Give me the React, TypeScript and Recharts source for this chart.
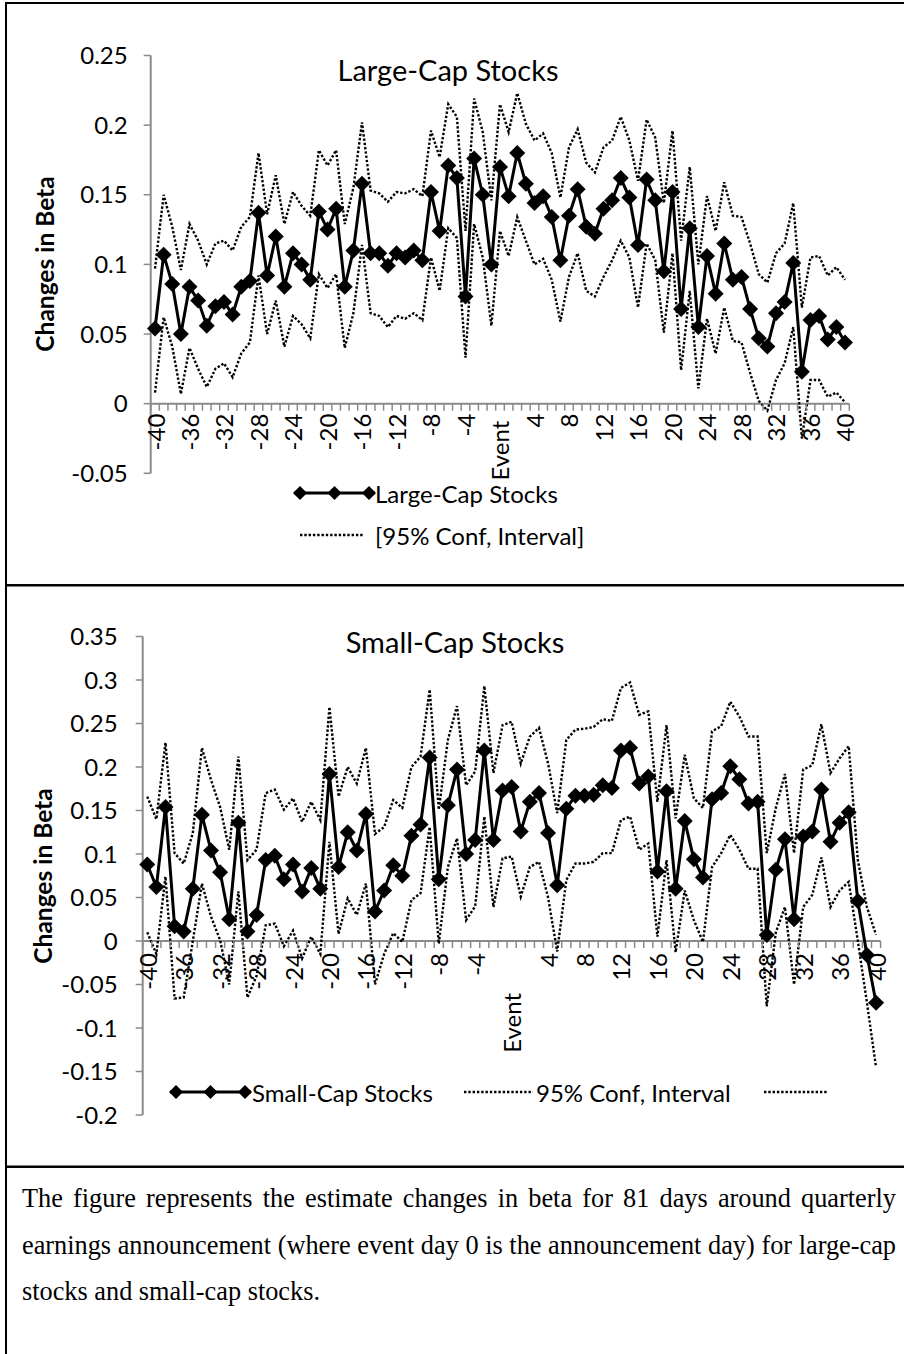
import React from 'react';
import { LineChart, Line, XAxis, YAxis, ReferenceLine } from 'recharts';

// event days around the announcement
const days = [
  -40, -39, -38, -37, -36, -35, -34, -33, -32, -31, -30, -29, -28, -27, -26, -25, -24, -23, -22, -21,
  -20, -19, -18, -17, -16, -15, -14, -13, -12, -11, -10, -9, -8, -7, -6, -5, -4, -3, -2, -1,
  0, 1, 2, 3, 4, 5, 6, 7, 8, 9, 10, 11, 12, 13, 14, 15, 16, 17, 18, 19, 20,
  21, 22, 23, 24, 25, 26, 27, 28, 29, 30, 31, 32, 33, 34, 35, 36, 37, 38, 39, 40,
];

const xLabelDays = [-40, -36, -32, -28, -24, -20, -16, -12, -8, -4, 0, 4, 8, 12, 16, 20, 24, 28, 32, 36, 40];

const largeCap = [
  0.054, 0.107, 0.086, 0.05, 0.084, 0.074, 0.056, 0.07, 0.073, 0.064, 0.084, 0.088, 0.137, 0.092, 0.12, 0.084, 0.108, 0.1, 0.089, 0.138,
  0.125, 0.14, 0.084, 0.11, 0.158, 0.108, 0.108, 0.099, 0.108, 0.105, 0.11, 0.103, 0.152, 0.124, 0.171, 0.162, 0.077, 0.176, 0.15, 0.1,
  0.17, 0.149, 0.18, 0.158, 0.144, 0.149, 0.134, 0.103, 0.135, 0.154, 0.127, 0.122, 0.14, 0.146, 0.162, 0.148, 0.114, 0.161, 0.146, 0.095, 0.152,
  0.068, 0.126, 0.055, 0.106, 0.079, 0.115, 0.089, 0.091, 0.068, 0.047, 0.041, 0.065, 0.073, 0.101, 0.023, 0.06, 0.063, 0.046, 0.055, 0.044,
];
const largeUpper = [
  0.097, 0.15, 0.127, 0.096, 0.129, 0.117, 0.1, 0.115, 0.117, 0.11, 0.127, 0.134, 0.18, 0.136, 0.164, 0.129, 0.152, 0.142, 0.135, 0.182,
  0.171, 0.182, 0.129, 0.155, 0.202, 0.153, 0.151, 0.145, 0.152, 0.151, 0.154, 0.149, 0.196, 0.177, 0.215, 0.206, 0.124, 0.219, 0.195, 0.146,
  0.215, 0.195, 0.223, 0.201, 0.189, 0.194, 0.18, 0.148, 0.184, 0.197, 0.173, 0.166, 0.184, 0.189, 0.206, 0.189, 0.16, 0.204, 0.191, 0.144, 0.196,
  0.117, 0.17, 0.1, 0.149, 0.124, 0.159, 0.135, 0.134, 0.115, 0.093, 0.087, 0.108, 0.115, 0.144, 0.069, 0.105, 0.106, 0.092, 0.098, 0.089,
];
const largeLower = [
  0.008, 0.062, 0.041, 0.007, 0.04, 0.025, 0.012, 0.025, 0.029, 0.019, 0.036, 0.044, 0.092, 0.05, 0.074, 0.041, 0.063, 0.057, 0.047, 0.093,
  0.083, 0.093, 0.04, 0.065, 0.114, 0.065, 0.063, 0.055, 0.063, 0.061, 0.065, 0.06, 0.105, 0.081, 0.126, 0.119, 0.033, 0.129, 0.105, 0.056,
  0.124, 0.106, 0.134, 0.117, 0.1, 0.104, 0.089, 0.059, 0.091, 0.108, 0.081, 0.077, 0.091, 0.103, 0.117, 0.105, 0.069, 0.115, 0.103, 0.051, 0.108,
  0.024, 0.081, 0.011, 0.061, 0.036, 0.069, 0.045, 0.044, 0.022, 0.002, -0.005, 0.017, 0.029, 0.055, -0.025, 0.017, 0.017, 0.005, 0.008, 0.001,
];

const smallCap = [
  0.088, 0.062, 0.154, 0.017, 0.011, 0.06, 0.145, 0.104, 0.079, 0.025, 0.136, 0.011, 0.03, 0.093, 0.098, 0.071, 0.088, 0.057, 0.084, 0.06,
  0.192, 0.085, 0.125, 0.104, 0.146, 0.034, 0.058, 0.087, 0.075, 0.121, 0.134, 0.211, 0.071, 0.156, 0.197, 0.1, 0.116, 0.219, 0.116, 0.173,
  0.177, 0.126, 0.16, 0.17, 0.124, 0.064, 0.152, 0.167, 0.167, 0.168, 0.179, 0.176, 0.219, 0.222, 0.181, 0.189, 0.08, 0.172, 0.06, 0.138, 0.094,
  0.073, 0.163, 0.17, 0.201, 0.186, 0.158, 0.16, 0.007, 0.082, 0.117, 0.025, 0.12, 0.126, 0.174, 0.114, 0.136, 0.148, 0.046, -0.016, -0.071,
];
const smallUpper = [
  0.166, 0.14, 0.228, 0.101, 0.089, 0.124, 0.222, 0.185, 0.154, 0.105, 0.212, 0.093, 0.105, 0.17, 0.174, 0.151, 0.164, 0.137, 0.16, 0.139,
  0.269, 0.166, 0.2, 0.181, 0.222, 0.123, 0.131, 0.162, 0.153, 0.2, 0.212, 0.289, 0.151, 0.231, 0.27, 0.179, 0.195, 0.293, 0.193, 0.248,
  0.252, 0.204, 0.235, 0.245, 0.204, 0.147, 0.231, 0.243, 0.244, 0.246, 0.255, 0.253, 0.291, 0.297, 0.26, 0.264, 0.16, 0.248, 0.141, 0.214, 0.164,
  0.153, 0.241, 0.247, 0.275, 0.258, 0.235, 0.235, 0.101, 0.153, 0.192, 0.101, 0.197, 0.202, 0.249, 0.193, 0.21, 0.224, 0.093, 0.039, 0.007,
];
const smallLower = [
  0.01, -0.015, 0.074, -0.066, -0.065, 0.0, 0.066, 0.028, 0.001, -0.05, 0.057, -0.065, -0.04, 0.018, 0.02, -0.006, 0.012, -0.02, 0.005, -0.015,
  0.114, 0.008, 0.049, 0.03, 0.066, -0.05, -0.015, 0.009, -0.001, 0.047, 0.055, 0.131, -0.003, 0.085, 0.118, 0.024, 0.04, 0.143, 0.039, 0.095,
  0.097, 0.051, 0.085, 0.091, 0.05, -0.012, 0.07, 0.089, 0.089, 0.091, 0.101, 0.101, 0.139, 0.143, 0.105, 0.112, 0.005, 0.093, -0.013, 0.058, 0.024,
  -0.001, 0.085, 0.101, 0.122, 0.105, 0.083, 0.083, -0.075, 0.01, 0.039, -0.05, 0.039, 0.053, 0.096, 0.039, 0.058, 0.068, 0.0, -0.071, -0.145,
];

const largeYTicks = [-0.05, 0, 0.05, 0.1, 0.15, 0.2, 0.25];
const smallYTicks = [-0.2, -0.15, -0.1, -0.05, 0, 0.05, 0.1, 0.15, 0.2, 0.25, 0.3, 0.35];

const FONT = 'Lato, "Open Sans", sans-serif';
const AXIS = '#8a8a8a';
const DOTS = '2.4 1.9';

const largeRows = days.map((d, i) => ({ day: d, main: largeCap[i], upper: largeUpper[i], lower: largeLower[i] }));
const smallRows = days.map((d, i) => ({ day: d, main: smallCap[i], upper: smallUpper[i], lower: smallLower[i] }));

const fmtY = (v: number) => String(Number(v.toFixed(2)));

const diamond = (p: any) => {
  const { cx, cy, index } = p;
  if (cx == null || cy == null) return <g key={`n-${index}`} />;
  return (
    <path
      key={`dm-${index}`}
      d={`M${cx},${cy - 8}L${cx + 8},${cy}L${cx},${cy + 8}L${cx - 8},${cy}Z`}
      fill="#000"
    />
  );
};

type Panel = {
  top: number;
  width: number;
  height: number;
  margin: { top: number; right: number; bottom: number; left: number };
  yDomain: [number, number];
  yTicks: number[];
  labelGap: number;
  eventShift: number;
  tickMargin: number;
};

const Y_AXIS_W = 130;
const X_AXIS_H = 1;

function ChartPanel({ cfg, rows }: { cfg: Panel; rows: any[] }) {
  const { margin, width, height, yDomain } = cfg;
  const plotH = height - margin.top - margin.bottom - X_AXIS_H;
  const plotW = width - margin.left - Y_AXIS_W - margin.right;
  const zeroY = margin.top + (plotH * yDomain[1]) / (yDomain[1] - yDomain[0]);
  const step = plotW / days.length;

  const dayTick = (props: any) => {
    const { x, payload } = props;
    const d = payload.value;
    const ty = zeroY + cfg.labelGap + (d === 0 ? cfg.eventShift : 0);
    return (
      <g key={`tk-${d}`}>
        <line x1={x - step / 2} x2={x - step / 2} y1={zeroY} y2={zeroY + 7} stroke={AXIS} strokeWidth={1.5} />
        {d === days[days.length - 1] && (
          <line x1={x + step / 2} x2={x + step / 2} y1={zeroY} y2={zeroY + 7} stroke={AXIS} strokeWidth={1.5} />
        )}
        {xLabelDays.includes(d) && (
          <text
            x={x}
            y={ty}
            transform={`rotate(-90 ${x} ${ty})`}
            textAnchor="end"
            dominantBaseline="central"
            fontSize={24}
            fontFamily={FONT}
            fill="#000"
          >
            {d === 0 ? 'Event' : d}
          </text>
        )}
      </g>
    );
  };

  return (
    <div style={{ position: 'absolute', left: 0, top: cfg.top }}>
      <LineChart width={width} height={height} data={rows} margin={margin}>
        <XAxis
          type="number"
          dataKey="day"
          domain={[-40.5, 40.5]}
          ticks={days}
          interval={0}
          height={X_AXIS_H}
          axisLine={false}
          tickLine={false}
          tick={dayTick}
        />
        <YAxis
          type="number"
          domain={yDomain}
          ticks={cfg.yTicks}
          interval={0}
          width={Y_AXIS_W}
          axisLine={{ stroke: AXIS, strokeWidth: 2 }}
          tickLine={{ stroke: AXIS, strokeWidth: 1.5 }}
          tickSize={7}
          tickMargin={cfg.tickMargin}
          tickFormatter={fmtY}
          tick={{ fontSize: 24, fill: '#000', fontFamily: FONT }}
        />
        <ReferenceLine y={0} stroke={AXIS} strokeWidth={2} />
        <Line type="linear" dataKey="upper" stroke="#000" strokeWidth={2.4} strokeDasharray={DOTS} dot={false} isAnimationActive={false} />
        <Line type="linear" dataKey="lower" stroke="#000" strokeWidth={2.4} strokeDasharray={DOTS} dot={false} isAnimationActive={false} />
        <Line type="linear" dataKey="main" stroke="#000" strokeWidth={3} dot={diamond} isAnimationActive={false} />
      </LineChart>
    </div>
  );
}

const largePanel: Panel = {
  top: 0,
  width: 904,
  height: 586,
  margin: { top: 55.5, right: 54.7, bottom: 111.7, left: 150.7 - Y_AXIS_W },
  yDomain: [-0.05, 0.25],
  yTicks: largeYTicks,
  labelGap: 10,
  eventShift: 7,
  tickMargin: 16,
};

const smallPanel: Panel = {
  top: 586,
  width: 904,
  height: 580,
  margin: { top: 50.5, right: 23.4, bottom: 50, left: 142.7 - Y_AXIS_W },
  yDomain: [-0.2, 0.35],
  yTicks: smallYTicks,
  labelGap: 12,
  eventShift: 40,
  tickMargin: 18,
};

function LegendDiamonds({ x1, x2, y }: { x1: number; x2: number; y: number }) {
  const mid = (x1 + x2) / 2;
  const pts = [x1 + 6, mid, x2 - 6];
  return (
    <g>
      <line x1={x1} x2={x2} y1={y} y2={y} stroke="#000" strokeWidth={3} />
      {pts.map((px) => (
        <path key={px} d={`M${px},${y - 7}L${px + 7},${y}L${px},${y + 7}L${px - 7},${y}Z`} fill="#000" />
      ))}
    </g>
  );
}

function LegendDots({ x1, x2, y }: { x1: number; x2: number; y: number }) {
  return <line x1={x1} x2={x2} y1={y} y2={y} stroke="#000" strokeWidth={2.4} strokeDasharray={DOTS} />;
}

function Overlay() {
  const txt = { fontFamily: FONT, fill: '#000' };
  return (
    <svg width={904} height={1354} style={{ position: 'absolute', left: 0, top: 0, pointerEvents: 'none' }}>
      {/* table frame */}
      <rect x={5} y={2} width={2} height={1352} fill="#000" />
      <rect x={5} y={2} width={899} height={2} fill="#000" />
      <rect x={5} y={584} width={899} height={2.5} fill="#000" />
      <rect x={5} y={1165.5} width={899} height={2.5} fill="#000" />

      {/* titles */}
      <text x={448} y={81} textAnchor="middle" fontSize={29} {...txt}>Large-Cap Stocks</text>
      <text x={455} y={653} textAnchor="middle" fontSize={29} {...txt}>Small-Cap Stocks</text>

      {/* axis titles */}
      <text x={44} y={264} transform="rotate(-90 44 264)" textAnchor="middle" dominantBaseline="central" fontSize={24.5} fontWeight="bold" {...txt}>
        Changes in Beta
      </text>
      <text x={42} y={876} transform="rotate(-90 42 876)" textAnchor="middle" dominantBaseline="central" fontSize={24.5} fontWeight="bold" {...txt}>
        Changes in Beta
      </text>

      {/* large-cap legend */}
      <LegendDiamonds x1={294} x2={375} y={493} />
      <text x={375} y={493} dominantBaseline="central" fontSize={24} {...txt}>Large-Cap Stocks</text>
      <LegendDots x1={300} x2={363} y={535} />
      <text x={375} y={535} dominantBaseline="central" fontSize={24} {...txt}>[95% Conf, Interval]</text>

      {/* small-cap legend */}
      <LegendDiamonds x1={170} x2={251} y={1092} />
      <text x={252} y={1092} dominantBaseline="central" fontSize={24} {...txt}>Small-Cap Stocks</text>
      <LegendDots x1={464} x2={533} y={1092} />
      <text x={536} y={1092} dominantBaseline="central" fontSize={24} {...txt}>95% Conf, Interval</text>
      <LegendDots x1={764} x2={827} y={1092} />
    </svg>
  );
}

const captionLines = [
  'The figure represents the estimate changes in beta for 81 days around quarterly',
  'earnings announcement (where event day 0 is the announcement day) for large-cap',
  'stocks and small-cap stocks.',
];

export default function App() {
  return (
    <div style={{ position: 'absolute', left: 0, top: 0, width: 904, height: 1354, background: '#fff', overflow: 'hidden' }}>
      <ChartPanel cfg={largePanel} rows={largeRows} />
      <ChartPanel cfg={smallPanel} rows={smallRows} />
      <Overlay />
      <div
        style={{
          position: 'absolute',
          left: 22,
          top: 1176,
          width: 874,
          fontFamily: '"Liberation Serif", "Times New Roman", serif',
          fontSize: 26.3,
          lineHeight: '46.7px',
          color: '#000',
        }}
      >
        {captionLines.map((l, i) => (
          <div
            key={i}
            style={{ textAlign: 'justify', textAlignLast: i < captionLines.length - 1 ? 'justify' : 'left' }}
          >
            {l}
          </div>
        ))}
      </div>
    </div>
  );
}
